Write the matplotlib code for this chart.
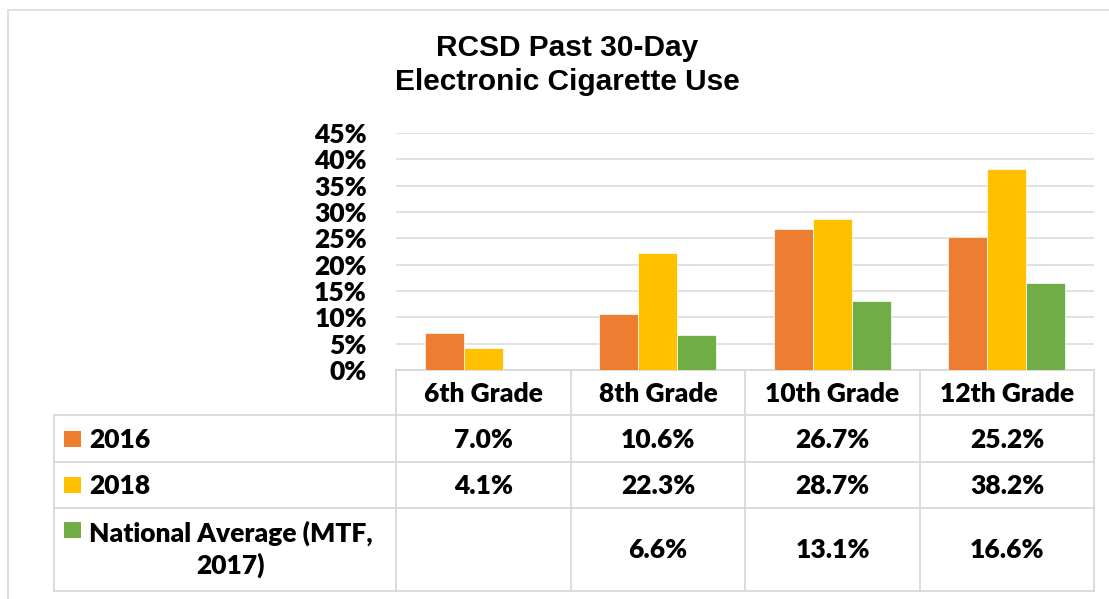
import numpy as np
import matplotlib
matplotlib.use("Agg")
import matplotlib.pyplot as plt
from matplotlib.patches import Rectangle

# ---- data ----
categories = ["6th Grade", "8th Grade", "10th Grade", "12th Grade"]
series_names = ["2016", "2018", "National Average (MTF,\n2017)"]
v2016 = [7.0, 10.6, 26.7, 25.2]
v2018 = [4.1, 22.3, 28.7, 38.2]
vnat = [np.nan, 6.6, 13.1, 16.6]
colors = ["#ED7D31", "#FFC000", "#70AD47"]
yticks = [0, 5, 10, 15, 20, 25, 30, 35, 40, 45]
title = "RCSD Past 30-Day\nElectronic Cigarette Use"

W, H = 1109, 599
fig = plt.figure(figsize=(W / 100, H / 100), dpi=100)
fig.patch.set_facecolor("white")

GRID = "#d9d9d9"
TFONT = ["Lato", "DejaVu Sans"]
FS = 19
FW = "heavy"

# overlay axes in pixel coordinates
ov = fig.add_axes([0, 0, 1, 1])
ov.set_xlim(0, W)
ov.set_ylim(H, 0)
ov.axis("off")

# bar axes
x_left, x_right = 396, 1094
y_zero, y_top = 370, 133
ax = fig.add_axes([x_left / W, 1 - y_zero / H, (x_right - x_left) / W, (y_zero - y_top) / H])
ax.set_xlim(-0.5, len(categories) - 0.5)
ax.set_ylim(0, 45)
ax.set_yticks(yticks)
ax.set_yticklabels([f"{t}%" for t in yticks], fontfamily=TFONT, fontweight=FW, fontsize=FS)
ax.tick_params(axis="y", length=0, pad=21)
ax.tick_params(axis="x", length=0, labelbottom=False)
for s in ax.spines.values():
    s.set_visible(False)
ax.set_axisbelow(True)
ax.yaxis.grid(True, color=GRID, linewidth=1.1)
ax.patch.set_alpha(0)

bw = 0.223
x = np.arange(len(categories))
for i, (vals, c) in enumerate(zip([v2016, v2018, vnat], colors)):
    ax.bar(x + (i - 1) * bw, vals, width=bw, color=c, edgecolor="white", linewidth=0.5, zorder=3)

# title
ov.text(567, 65, title, ha="center", va="center", fontsize=21.5, fontweight="bold",
        fontfamily=["Liberation Sans", "DejaVu Sans"], linespacing=1.3)

# frame
ov.plot([8, 8], [10, H], color=GRID, lw=1.2)
ov.plot([8, W], [10, 10], color=GRID, lw=1.2)

# table
cols = [396, 571, 745, 920, 1094]
rows = [370, 415, 462, 508, 591]
tl = 54
lw = 1.3
ov.plot([cols[0], cols[-1]], [rows[0], rows[0]], color=GRID, lw=lw)
for r in rows[1:]:
    ov.plot([tl, cols[-1]], [r, r], color=GRID, lw=lw)
ov.plot([tl, tl], [rows[1], rows[-1]], color=GRID, lw=lw)
for c in cols:
    ov.plot([c, c], [rows[0], rows[-1]], color=GRID, lw=lw)

tkw = dict(fontfamily=TFONT, fontweight=FW, fontsize=FS, color="black")
for j, cat in enumerate(categories):
    ov.text((cols[j] + cols[j + 1]) / 2, (rows[0] + rows[1]) / 2 + 1, cat, ha="center", va="center", **tkw)

all_vals = [v2016, v2018, vnat]
for i, (name, vals, c) in enumerate(zip(series_names, all_vals, colors)):
    ytop, ybot = rows[i + 1], rows[i + 2]
    yc = (ytop + ybot) / 2
    if "\n" in name:
        sq_y = 530
        ov.text(89, yc, name, ha="left", va="center", multialignment="center",
                linespacing=1.3, **tkw)
    else:
        sq_y = yc
        ov.text(89, yc + 1, name, ha="left", va="center", **tkw)
    ov.add_patch(Rectangle((64, sq_y - 8), 17, 16, color=c, lw=0))
    for j, v in enumerate(vals):
        if not np.isnan(v):
            ov.text((cols[j] + cols[j + 1]) / 2, yc + 1, f"{v:.1f}%", ha="center", va="center", **tkw)

fig.savefig("out.png", dpi=100, facecolor="white")
